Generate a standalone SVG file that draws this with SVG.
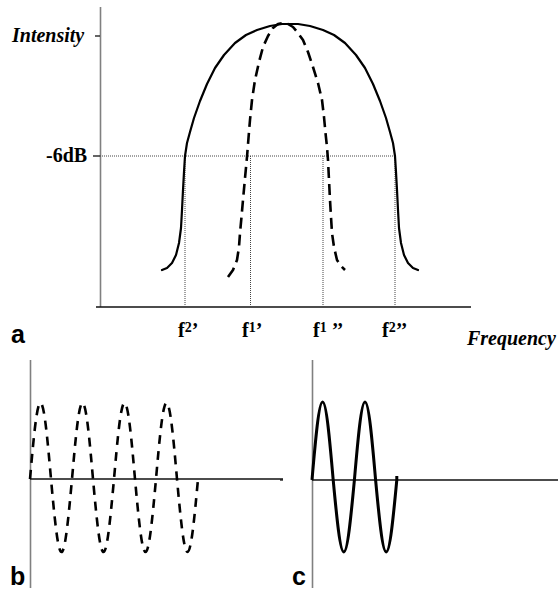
<svg xmlns="http://www.w3.org/2000/svg" width="558" height="591" viewBox="0 0 558 591">
<style>
.serif{font-family:"Liberation Serif","Times New Roman",serif;font-weight:bold;fill:#000}
.it{font-style:italic}
.sup{font-size:14px}
.sans{font-family:"Liberation Sans",Arial,sans-serif;font-weight:bold;fill:#000}
.vaxis{stroke:#808080;stroke-width:1.6;fill:none}
.haxis{stroke:#111;stroke-width:1.3;fill:none}
.dot{stroke:#444;stroke-width:1;stroke-dasharray:1,1;fill:none}
.solid{stroke:#000;stroke-width:2.2;fill:none;stroke-linejoin:round;stroke-linecap:round}
.dash{stroke:#000;stroke-width:2.6;fill:none;stroke-dasharray:11,6;stroke-linejoin:round}
.dashb{stroke:#000;stroke-width:2.6;fill:none;stroke-dasharray:9,7}
.wavec{stroke:#000;stroke-width:3;fill:none}
</style>
<rect width="558" height="591" fill="#fff"/>

<g id="panel-a-axes">
  <line class="vaxis" x1="100.5" y1="7" x2="100.5" y2="307"/>
  <line class="haxis" x1="96" y1="307" x2="471" y2="307"/>
  <line class="haxis" x1="95" y1="36" x2="100" y2="36"/>
  <line class="haxis" x1="93" y1="156" x2="100" y2="156"/>
</g>

<g id="guides">
  <line class="dot" x1="100" y1="156" x2="396" y2="156"/>
  <line class="dot" x1="185" y1="156" x2="185" y2="307"/>
  <line class="dot" x1="250.5" y1="156" x2="250.5" y2="307"/>
  <line class="dot" x1="323" y1="156" x2="323" y2="307"/>
  <line class="dot" x1="395" y1="156" x2="395" y2="307"/>
</g>

<g id="wide-spectrum">
  <path class="solid" d="M162,270 L167,268 L172,263 L176,255 L179,243 L181,228 L182,210 L183,190 L184,172 L185,156 L187,143 L190,132 L194,118 L200,101 L207,84 L215,68 L224,55 L235,43 L246,35 L257,30 L270,26 L282,24 L290,24 L298,24 L310,26 L323,30 L334,35 L345,43 L356,55 L365,68 L373,84 L380,101 L386,118 L390,132 L393,143 L395,156 L396,172 L397,190 L398,210 L399,228 L401,243 L404,255 L408,263 L413,268 L418,270"/>
</g>

<g id="narrow-spectrum">
  <path class="dash" d="M228,277 L233,270 L237,260 L239,247 L240,233 L241.5,217 L243,200 L245,178 L247,157 L248.5,138 L250,120 L252,100 L255,80 L259,62 L263,47 L268,36 L273,28 L278,24 L283,23 L288,24 L293,27 L298,33 L303,40 L308,52 L313,67 L318,83 L322,100 L324,117 L325.5,133 L327,147 L328,160 L329,180 L330,200 L331,217 L332,233 L334,247 L337,260 L341,266 L345,270"/>
</g>

<g id="panel-a-labels">
  <text class="serif it" x="12" y="42" font-size="20">Intensity</text>
  <text class="serif" x="46" y="162" font-size="20">-6dB</text>
  <text class="serif" x="178" y="337" font-size="20">f<tspan class="sup" dy="-5">2</tspan><tspan dy="5">’</tspan></text>
  <text class="serif" x="242" y="337" font-size="20">f<tspan class="sup" dy="-5">1</tspan><tspan dy="5">’</tspan></text>
  <text class="serif" x="313" y="337" font-size="20">f<tspan class="sup" dy="-5">1</tspan><tspan dy="5"> ’’</tspan></text>
  <text class="serif" x="382" y="337" font-size="20">f<tspan class="sup" dy="-5">2</tspan><tspan dy="5">’’</tspan></text>
  <text class="serif it" x="467" y="345" font-size="20">Frequency</text>
  <text class="sans" x="11" y="343" font-size="25">a</text>
</g>

<g id="panel-b">
  <line class="vaxis" x1="30.5" y1="360" x2="30.5" y2="588"/>
  <line class="haxis" x1="30" y1="479" x2="283" y2="479"/>
  <path class="dashb" d="M30,479 c3.42,-38.9 6.7,-76 10.5,-76 c3.8,0 7.08,37.1 10.5,76 c3.42,37.4 6.7,73 10.5,73 c3.8,0 7.08,-35.6 10.5,-73 c3.42,-38.9 6.7,-76 10.5,-76 c3.8,0 7.08,37.1 10.5,76 c3.42,37.4 6.7,73 10.5,73 c3.8,0 7.08,-35.6 10.5,-73 c3.42,-38.9 6.7,-76 10.5,-76 c3.8,0 7.08,37.1 10.5,76 c3.42,37.4 6.7,73 10.5,73 c3.8,0 7.08,-35.6 10.5,-73 c3.42,-38.9 6.7,-76 10.5,-76 c3.8,0 7.08,37.1 10.5,76 c3.42,37.4 6.7,73 10.5,73 c3.8,0 7.08,-35.6 10.5,-73"/>
  <text class="sans" x="10" y="585" font-size="25">b</text>
</g>

<g id="panel-c">
  <line class="vaxis" x1="312.5" y1="360" x2="312.5" y2="588"/>
  <line class="haxis" x1="280" y1="480" x2="283" y2="480"/>
  <line class="haxis" x1="312" y1="480" x2="558" y2="480"/>
  <path class="wavec" d="M312,480 c3.46,-40 6.76,-78 10.6,-78 c3.84,0 7.14,38 10.6,78 c3.46,36.9 6.76,72 10.6,72 c3.84,0 7.14,-35.1 10.6,-72 c3.46,-40 6.76,-78 10.6,-78 c3.84,0 7.14,38 10.6,78 c3.46,36.9 6.76,72 10.6,72 c3.84,0 7.14,-35.1 10.6,-72 l0,-4"/>
  <text class="sans" x="292" y="585" font-size="25">c</text>
</g>
</svg>
